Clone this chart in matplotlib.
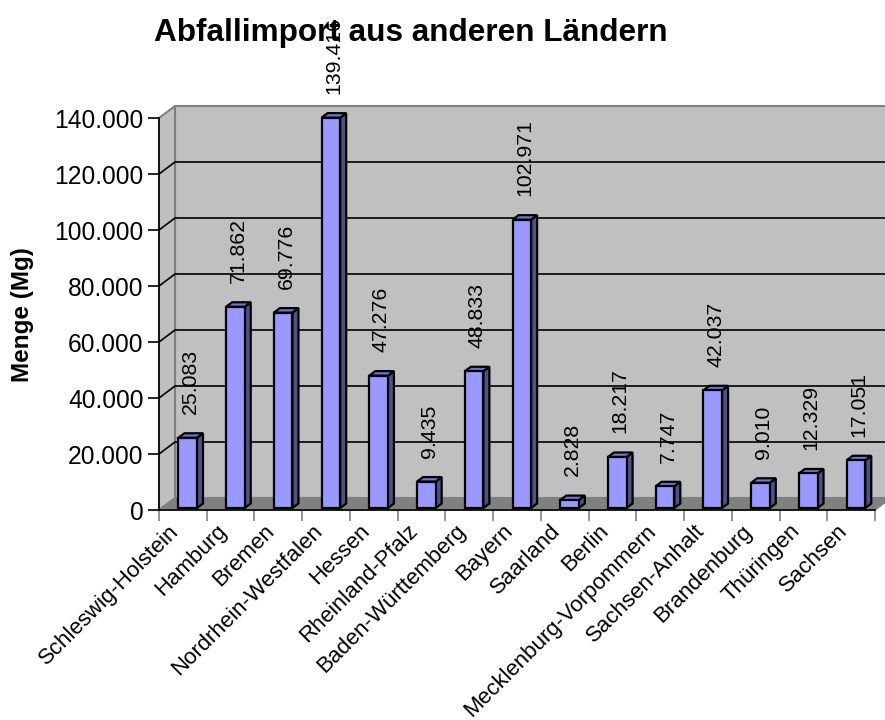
import matplotlib
matplotlib.use("Agg")
import matplotlib.pyplot as plt
from matplotlib.patches import Polygon
from matplotlib.transforms import ScaledTranslation

plt.rcParams['font.family'] = ['Liberation Sans', 'DejaVu Sans']

laender = ['Schleswig-Holstein', 'Hamburg', 'Bremen', 'Nordrhein-Westfalen', 'Hessen',
           'Rheinland-Pfalz', 'Baden-Württemberg', 'Bayern', 'Saarland', 'Berlin',
           'Mecklenburg-Vorpommern', 'Sachsen-Anhalt', 'Brandenburg', 'Thüringen', 'Sachsen']
menge = [25083, 71862, 69776, 139416, 47276, 9435, 48833, 102971, 2828, 18217,
         7747, 42037, 9010, 12329, 17051]
y_ticks = [0, 20000, 40000, 60000, 80000, 100000, 120000, 140000]


def fmt(v):
    return '{:,}'.format(v).replace(',', '.')


W, H = 885, 720
fig = plt.figure(figsize=(W / 100, H / 100), dpi=100)
# front plane of the 3d box
x0, x1, y0, y1 = 159, 875, 510, 118
ax = fig.add_axes([x0 / W, 1 - y0 / H, (x1 - x0) / W, (y0 - y1) / H])
n = len(menge)
ymax = 140000
ax.set_xlim(0, n)
ax.set_ylim(0, ymax)
ax.patch.set_visible(False)

# depth of the box in data units
DX = 16 / (x1 - x0) * n
DY = 12 / (y0 - y1) * ymax

wall = '#C0C0C0'
edge = '#808080'
ax.add_patch(Polygon([(DX, DY), (n + DX, DY), (n + DX, ymax + DY), (DX, ymax + DY)],
                     facecolor=wall, edgecolor=edge, lw=1.5, clip_on=False, zorder=0))
ax.add_patch(Polygon([(0, 0), (DX, DY), (DX, ymax + DY), (0, ymax)],
                     facecolor=wall, edgecolor=edge, lw=1.5, clip_on=False, zorder=0))
ax.add_patch(Polygon([(0, 0), (n, 0), (n + DX, DY), (DX, DY)],
                     facecolor='#808080', edgecolor='#808080', lw=1, clip_on=False, zorder=0.6))
for yt in y_ticks[1:-1]:
    ax.plot([0, DX, n + DX], [yt, yt + DY, yt + DY], color='black', lw=1.2,
            clip_on=False, zorder=0.5)

# bars: front face + side + top
d0, bd = 0.167, 0.375
bw = 0.39
lefts = [i + 0.35 + d0 * DX for i in range(n)]
base = d0 * DY
ax.bar(lefts, menge, width=bw, bottom=base, align='edge', color='#9999FF',
       edgecolor='black', lw=1.6, zorder=3, clip_on=False)
for xl, v in zip(lefts, menge):
    xr = xl + bw
    top = base + v
    ax.add_patch(Polygon([(xr, base), (xr + bd * DX, base + bd * DY),
                          (xr + bd * DX, top + bd * DY), (xr, top)],
                         facecolor='#50508A', edgecolor='black', lw=1.6,
                         zorder=2.9, clip_on=False))
    ax.add_patch(Polygon([(xl, top), (xr, top), (xr + bd * DX, top + bd * DY),
                          (xl + bd * DX, top + bd * DY)],
                         facecolor='#7474D0', edgecolor='black', lw=1.6,
                         zorder=2.9, clip_on=False))
    ax.annotate(fmt(v), (xl + bw / 2 + 0.06, top), xytext=(0, 17), textcoords='offset points',
                rotation=90, ha='center', va='bottom', fontsize=15.3, zorder=4,
                annotation_clip=False)

# axes
for s in ['top', 'right']:
    ax.spines[s].set_visible(False)
for s in ['left', 'bottom']:
    ax.spines[s].set_color('black')
    ax.spines[s].set_linewidth(1.2)
    ax.spines[s].set_zorder(2.5)
ax.set_yticks(y_ticks)
ax.set_yticklabels([fmt(v) for v in y_ticks], fontsize=17.7)
ax.tick_params(axis='y', length=8, width=1.2, pad=3)
ax.set_xticks([i + 0.5 for i in range(n)])
ax.set_xticklabels(laender, rotation=45, ha='right', va='baseline', rotation_mode='anchor',
                   fontsize=16)
ax.tick_params(axis='x', which='major', length=0, pad=0)
ax.set_xticks(range(n + 1), minor=True)
ax.tick_params(axis='x', which='minor', length=8, width=1.2, color=edge)
shift = ScaledTranslation(-3 / 100, -22 / 100, fig.dpi_scale_trans)
for lab in ax.get_xticklabels():
    lab.set_transform(lab.get_transform() + shift)

fig.text(23 / W, 1 - 315 / H, 'Menge (Mg)', rotation=90, ha='center', va='center',
         fontsize=17.5, fontweight='bold')
fig.text(411 / W, 1 - 41 / H, 'Abfallimport aus anderen Ländern', ha='center',
         va='baseline', fontsize=22.7, fontweight='bold')

fig.savefig('out.png', dpi=100)
